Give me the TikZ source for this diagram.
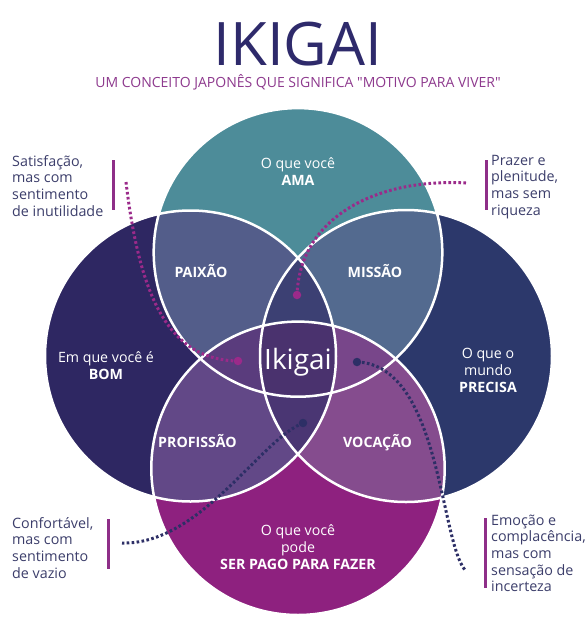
\documentclass[tikz,border=0pt]{standalone}
\usepackage{fontspec}
\setmainfont{Open Sans}[Ligatures=TeXOff]
\definecolor{cT}{HTML}{4D8C99}
\definecolor{cL}{HTML}{2E2762}
\definecolor{cR}{HTML}{2C386B}
\definecolor{cB}{HTML}{8E217F}
\definecolor{cTL}{HTML}{535D8A}
\definecolor{cTR}{HTML}{536A8F}
\definecolor{cLB}{HTML}{624887}
\definecolor{cRB}{HTML}{854C8E}
\definecolor{cTLR}{HTML}{3C4073}
\definecolor{cLRB}{HTML}{4A3673}
\definecolor{cTLB}{HTML}{5A3C7D}
\definecolor{cTRB}{HTML}{78468A}
\definecolor{cAll}{HTML}{4A326E}
\definecolor{cTitle}{HTML}{2E2A6B}
\definecolor{cSub}{HTML}{8E3A8E}
\definecolor{cSide}{HTML}{3C3E6B}
\definecolor{cBar}{HTML}{8E2F88}
\definecolor{cDotM}{HTML}{9B2A8A}
\definecolor{cDotN}{HTML}{2D2F66}
\newcommand{\RadT}{144.3pt}
\newcommand{\RadL}{145.5pt}
\newcommand{\RadR}{146pt}
\newcommand{\RadB}{146.7pt}
\newcommand{\ctrlines}[1]{\vtop{\halign{\hfil##\hfil\cr#1\crcr}}}
\newcommand{\lftlines}[1]{\vtop{\halign{##\hfil\cr#1\crcr}}}
\begin{document}
\begin{tikzpicture}[x=1pt,y=-1pt,
  sidetext/.style={anchor=base west,inner sep=0pt,text=cSide,font=\fontsize{14.3}{16.7}\selectfont},
  circtext/.style={anchor=base,inner sep=0pt,text=white,font=\fontsize{14.2}{17}\selectfont},
  bar/.style={draw=cBar,line width=3pt},
  ring/.style={draw=white,line width=2.5pt},
  dotmag/.style={draw=cDotM,line width=3pt,dash pattern=on 2.6pt off 2.4pt},
  dotnav/.style={draw=cDotN,line width=3pt,dash pattern=on 2.6pt off 2.4pt},
  endm/.style={circle,fill=cDotM,inner sep=0pt,minimum size=8.5pt},
  endn/.style={circle,fill=cDotN,inner sep=0pt,minimum size=8.5pt}]
\useasboundingbox (0,0) rectangle (587,635);
\fill[white] (0,0) rectangle (587,635);
\coordinate (T) at (298,252.4);
\coordinate (L) at (190.5,356);
\coordinate (R) at (406,356);
\coordinate (B) at (298,468.3);
% base circles
\fill[cT] (T) circle (\RadT);
\fill[cL] (L) circle (\RadL);
\fill[cR] (R) circle (\RadR);
\fill[cB] (B) circle (\RadB);
% pairs
\begin{scope}\clip (T) circle (\RadT); \fill[cTL] (L) circle (\RadL); \end{scope}
\begin{scope}\clip (T) circle (\RadT); \fill[cTR] (R) circle (\RadR); \end{scope}
\begin{scope}\clip (B) circle (\RadB); \fill[cLB] (L) circle (\RadL); \end{scope}
\begin{scope}\clip (B) circle (\RadB); \fill[cRB] (R) circle (\RadR); \end{scope}
% triples
\begin{scope}\clip (T) circle (\RadT); \clip (L) circle (\RadL); \fill[cTLR] (R) circle (\RadR); \end{scope}
\begin{scope}\clip (B) circle (\RadB); \clip (L) circle (\RadL); \fill[cLRB] (R) circle (\RadR); \end{scope}
\begin{scope}\clip (T) circle (\RadT); \clip (L) circle (\RadL); \fill[cTLB] (B) circle (\RadB); \end{scope}
\begin{scope}\clip (T) circle (\RadT); \clip (R) circle (\RadR); \fill[cTRB] (B) circle (\RadB); \end{scope}
% all four
\begin{scope}\clip (T) circle (\RadT); \clip (L) circle (\RadL); \clip (R) circle (\RadR); \fill[cAll] (B) circle (\RadB); \end{scope}
% outlines
\draw[ring] (T) circle (\RadT);
\draw[ring] (L) circle (\RadL);
\draw[ring] (R) circle (\RadR);
\draw[ring] (B) circle (\RadB);
% title
\node[anchor=base,inner sep=0pt,text depth=0pt,text=cTitle,font=\fontsize{60}{60}\selectfont] (title) at (298,65) {IKIGAI};
\node[anchor=base,inner sep=0pt,text=cSub,font=\fontsize{14}{15}\selectfont] (sub) at (298,87) {UM CONCEITO JAPONÊS QUE SIGNIFICA "MOTIVO PARA VIVER"};
% circle labels
\node[circtext] (ama) at (298,168) {\ctrlines{O que você\cr\textbf{AMA}}};
\node[circtext] (bom) at (106,362) {\ctrlines{Em que você é\cr\textbf{BOM}}};
\node[circtext] (precisa) at (488,358) {\ctrlines{O que o\cr mundo\cr\textbf{PRECISA}}};
\node[circtext] (pago) at (298,535) {\ctrlines{O que você\cr pode\cr\textbf{SER PAGO PARA FAZER}}};
\node[circtext] (paixao) at (201,277) {\textbf{PAIXÃO}};
\node[circtext] (missao) at (375,277) {\textbf{MISSÃO}};
\node[circtext] (profissao) at (197.5,447) {\textbf{PROFISSÃO}};
\node[circtext] (vocacao) at (377.5,447) {\textbf{VOCAÇÃO}};
\node[anchor=base,inner sep=0pt,text=white,font=\fontsize{28}{30}\selectfont] (ikigai) at (298,369) {Ikigai};
% side texts
\node[sidetext] (tl) at (12,166) {\lftlines{Satisfação,\cr mas com\cr sentimento\cr de inutilidade}};
\node[sidetext] (tr) at (491,165) {\lftlines{Prazer e\cr plenitude,\cr mas sem\cr riqueza}};
\node[sidetext] (bl) at (12,528) {\lftlines{Confortável,\cr mas com\cr sentimento\cr de vazio}};
\node[sidetext] (br) at (491,525) {\lftlines{Emoção e\cr complacência,\cr mas com\cr sensação de\cr incerteza}};
% bars
\draw[bar] (113,160) -- (113,210);
\draw[bar] (486,160) -- (486,210);
\draw[bar] (108,519) -- (108,569);
\draw[bar] (485,518) -- (485,588);
% connectors
\node[endm] (d1) at (238,361) {};
\node[endm] (d2) at (297,295) {};
\node[endn] (d3) at (357,362) {};
\node[endn] (d4) at (303,423) {};
\coordinate (s1) at (126,182);
\coordinate (s2) at (466,183);
\coordinate (s3) at (465,570);
\coordinate (s4) at (122,543);
\draw[dotmag] (s1) .. controls (140,300) and (170,360) .. (d1.center);
\draw[dotmag] (s2) .. controls (380,178) and (300,215) .. (d2.center);
\draw[dotnav] (d3.center) .. controls (440,365) and (440,540) .. (s3);
\draw[dotnav] (d4.center) .. controls (260,440) and (200,545) .. (s4);
\end{tikzpicture}
\end{document}
